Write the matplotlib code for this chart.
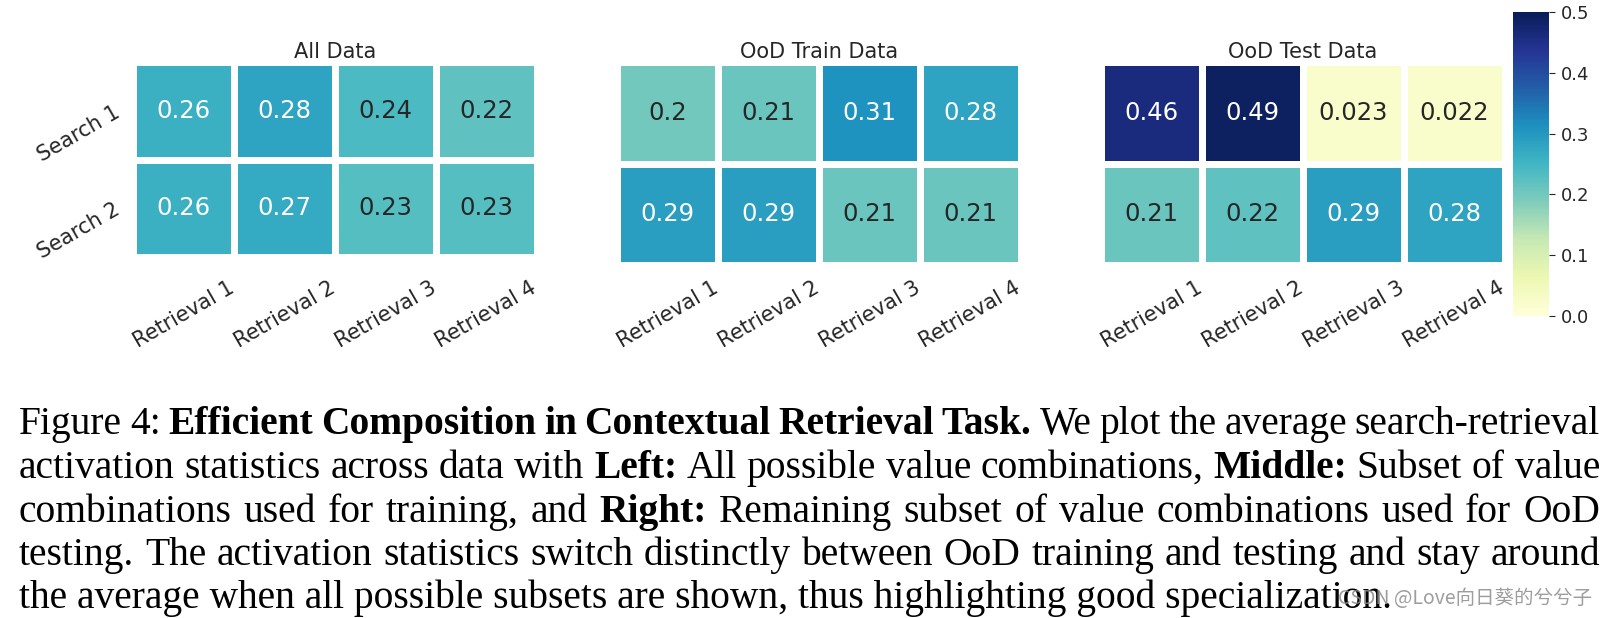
import matplotlib
matplotlib.use("Agg")
import numpy as np
import matplotlib.pyplot as plt
import seaborn as sns

# ---------------- data ----------------
row_labels = ["Search 1", "Search 2"]
col_labels = ["Retrieval 1", "Retrieval 2", "Retrieval 3", "Retrieval 4"]
all_data = [[0.26, 0.28, 0.24, 0.22],
            [0.26, 0.27, 0.23, 0.23]]
ood_train = [[0.2, 0.21, 0.31, 0.28],
             [0.29, 0.29, 0.21, 0.21]]
ood_test = [[0.46, 0.49, 0.023, 0.022],
            [0.21, 0.22, 0.29, 0.28]]
panel_titles = ["All Data", "OoD Train Data", "OoD Test Data"]
cbar_ticks = [0.0, 0.1, 0.2, 0.3, 0.4, 0.5]

caption_lines = [
    [("Figure 4:", "normal"),
     ("Efficient Composition in Contextual Retrieval Task.", "bold"),
     ("We plot the average search-retrieval", "normal")],
    [("activation statistics across data with", "normal"), ("Left:", "bold"),
     ("All possible value combinations,", "normal"), ("Middle:", "bold"),
     ("Subset of value", "normal")],
    [("combinations used for training, and", "normal"), ("Right:", "bold"),
     ("Remaining subset of value combinations used for OoD", "normal")],
    [("testing. The activation statistics switch distinctly between OoD "
      "training and testing and stay around", "normal")],
    [("the average when all possible subsets are shown, thus highlighting "
      "good specialization.", "normal")],
]
watermark = "CSDN @Love向日葵的兮兮子"

# ---------------- figure ----------------
W, H = 1607, 618
fig = plt.figure(figsize=(W / 100, H / 100), dpi=100)
TXT = "#262626"
VMIN, VMAX = 0.0, 0.5


def ax_px(l, t, r, b):
    return fig.add_axes([l / W, 1 - b / H, (r - l) / W, (b - t) / H])


lw = 3.8
half = lw / 0.72 / 2
boxes = [(136, 65, 534, 254), (620, 65, 1018, 262), (1104, 65, 1502, 262)]
xpads = [15, 9.5, 9.5]
tpads = [1.5, 3.5, 3.5]
datasets = [all_data, ood_train, ood_test]

mesh = None
for i, (d, box) in enumerate(zip(datasets, boxes)):
    l, t, r, b = box
    ax = ax_px(l - half, t - half, r + half, b + half)
    arr = np.array(d)
    sns.heatmap(arr, ax=ax, cmap="YlGnBu", vmin=VMIN, vmax=VMAX,
                annot=True, fmt=".2g", annot_kws={"size": 17.5},
                linewidths=lw, linecolor="white", cbar=False,
                xticklabels=col_labels,
                yticklabels=row_labels if i == 0 else False)
    mesh = ax.collections[0]
    # annotation colour: white on the darker half of the colour scale
    for txt, v in zip(ax.texts, arr.flatten()):
        txt.set_color("white" if (v - VMIN) / (VMAX - VMIN) > 0.5 else TXT)
    ax.set_xticklabels(col_labels, rotation=30, ha="center",
                       fontsize=15, color=TXT)
    ax.tick_params(axis="x", length=0, pad=xpads[i])
    if i == 0:
        ax.set_yticklabels(row_labels, rotation=30, fontsize=15, color=TXT,
                           rotation_mode="anchor", ha="right", va="center")
        ax.tick_params(axis="y", length=0, pad=11)
    ax.set_title(panel_titles[i], fontsize=15, color=TXT, pad=tpads[i])

cax = ax_px(1513, 12, 1549, 316)
cb = fig.colorbar(mesh, cax=cax)
cb.outline.set_visible(False)
cb.set_ticks(cbar_ticks)
cb.set_ticklabels([f"{v:.1f}" for v in cbar_ticks])
cax.tick_params(labelsize=13, length=4.3, width=0.8, color=TXT,
                labelcolor=TXT, pad=4)

# ---------------- caption ----------------
renderer = fig.canvas.get_renderer()
SERIF = "Liberation Serif"


def text_width(s, weight, fs):
    t = fig.text(0, 0, s, fontsize=fs, family=SERIF, weight=weight)
    w = t.get_window_extent(renderer).width
    t.remove()
    return w


last_line = caption_lines[-1][0][0]
fs = 10 * 1375 / text_width(last_line, "normal", 10)

x0, x1 = 19, 1600
baselines = [434, 478, 522, 565, 608]
for li, (segs, base) in enumerate(zip(caption_lines, baselines)):
    yfig = 1 - base / H
    if li == len(caption_lines) - 1:
        fig.text(x0 / W, yfig, last_line, fontsize=fs, family=SERIF,
                 va="baseline", ha="left", color="black")
        continue
    words = []
    for s, w in segs:
        for tok in s.split(" "):
            words.append((tok, w))
    widths = [text_width(tok, w, fs) for tok, w in words]
    gap = (x1 - x0 - sum(widths)) / (len(words) - 1)
    x = x0
    for (tok, w), wd in zip(words, widths):
        fig.text(x / W, yfig, tok, fontsize=fs, family=SERIF, weight=w,
                 va="baseline", ha="left", color="black")
        x += wd + gap

fig.text(1592 / W, 1 - 598 / H, watermark, ha="right", va="center",
         fontsize=14, color="#8c8c8c", alpha=0.85,
         family=["Noto Sans CJK SC", "DejaVu Sans"])

fig.savefig("out.png", dpi=100)
